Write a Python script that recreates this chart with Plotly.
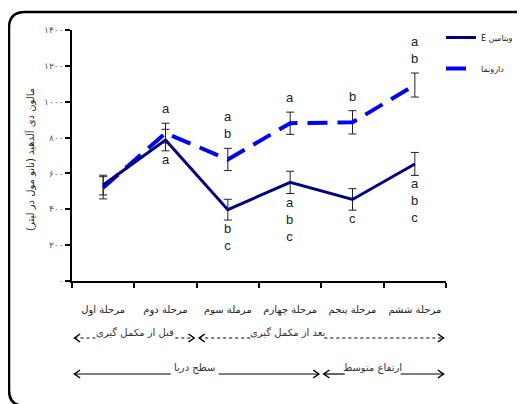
import plotly.graph_objects as go

# ---------------- data ----------------
stages = ["مرحلة اول", "مرحلة دوم", "مرملة سوم", "مرحلة چهارم", "مرحلة پنجم", "مرحلة ششم"]
stage_pos = [1, 2, 3, 4, 5, 6]

vitE = [535, 786, 398, 550, 455, 653]
vitE_err = [55, 60, 58, 62, 60, 64]
placebo = [520, 825, 678, 880, 885, 1093]
placebo_err = [62, 55, 62, 62, 65, 67]

letters_above = ["", "a", "a<br>b", "a", "b", "a<br>b"]          # above placebo
letters_below = ["", "a", "b<br>c", "a<br>b<br>c", "c", "a<br>b<br>c"]  # below vitamin E

y_tickvals = [0, 200, 400, 600, 800, 1000, 1200, 1400]
y_ticktext = ["۰", "۲۰۰", "۴۰۰", "۶۰۰", "۸۰۰", "۱۰۰۰", "۱۲۰۰", "۱۴۰۰"]

y_title = "مالون دی آلدهید (نانو مول در لیتر)"
name_vitE = "ویتامین E"
name_placebo = "دارونما"

phase_labels = ["قبل از مکمل گیری", "بعد از مکمل گیری"]
phase_spans = [(0.5, 2.5), (2.5, 6.5)]
alt_labels = ["سطح دریا", "ارتفاع متوسط"]
alt_spans = [(0.5, 4.5), (4.5, 6.5)]

RLE, PDF = "\u202b", "\u202c"
def rtl(s):
    return RLE + s + PDF

# ---------------- layout helpers ----------------
OFF = 8  # page body margin
W, H = 525 - OFF, 404 - OFF
L, T = 72 - OFF, 30 - OFF
R = W - (446 - OFF)
B = H - (281 - OFF)
PW, PH = W - L - R, H - T - B
UNIT = PW / 6.0  # px per category

def px_x(px):
    return (px - OFF - L) / PW

def px_y(py):
    return (H - B - (py - OFF)) / PH

fa_font = "DejaVu Sans"
navy = "#000080"
blue = "#0000FF"

fig = go.Figure()

fig.add_trace(go.Scatter(
    x=stage_pos, y=placebo, name=rtl(name_placebo), mode="lines",
    line=dict(color=blue, width=4, dash="20px,10px"),
    error_y=dict(type="data", array=placebo_err, color="#222", thickness=1, width=4),
    legendgroup="p", legendrank=2,
))
fig.add_trace(go.Scatter(
    x=stage_pos, y=vitE, name=rtl(name_vitE), mode="lines",
    line=dict(color=navy, width=3),
    error_y=dict(type="data", array=vitE_err, color="#222", thickness=1, width=4),
    legendgroup="e", legendrank=1,
))

annotations = []
for xp, v, e, t in zip(stage_pos, placebo, placebo_err, letters_above):
    if t:
        annotations.append(dict(x=xp, y=v + e, xref="x", yref="y", text=t, showarrow=False,
                                yanchor="bottom", yshift=5,
                                font=dict(family="Liberation Sans", size=13, color="#222")))
for xp, v, e, t in zip(stage_pos, vitE, vitE_err, letters_below):
    if t:
        annotations.append(dict(x=xp, y=v - e, xref="x", yref="y", text=t, showarrow=False,
                                yanchor="top", yshift=1,
                                font=dict(family="Liberation Sans", size=13, color="#222")))

# y-axis title
annotations.append(dict(x=px_x(30), y=px_y(160), xref="paper", yref="paper",
                        xanchor="center", yanchor="middle",
                        text=rtl(y_title), textangle=-90, showarrow=False,
                        font=dict(family=fa_font, size=10, color="#222")))

shapes = []
row2_y = px_y(338)
row3_y = px_y(374)
ah_dx = 0.09
ah_dy = 4 / PH
inset = 0.04

def bracket(span, yv, dash, width, label, shift_px, half_gap_px):
    x0, x1 = span[0] + inset, span[1] - inset
    xc = (span[0] + span[1]) / 2 + shift_px / UNIT
    g = half_gap_px / UNIT
    for a, b in ((x0, xc - g), (xc + g, x1)):
        shapes.append(dict(type="line", xref="x", yref="paper", x0=a, x1=b, y0=yv, y1=yv,
                           line=dict(color="black", width=width, dash=dash)))
    shapes.append(dict(type="path", xref="x", yref="paper",
                       path=f"M {x0+ah_dx},{yv+ah_dy} L {x0},{yv} L {x0+ah_dx},{yv-ah_dy}",
                       line=dict(color="black", width=1.5)))
    shapes.append(dict(type="path", xref="x", yref="paper",
                       path=f"M {x1-ah_dx},{yv+ah_dy} L {x1},{yv} L {x1-ah_dx},{yv-ah_dy}",
                       line=dict(color="black", width=1.5)))
    annotations.append(dict(x=xc, y=yv, xref="x", yref="paper",
                            text=rtl(label), showarrow=False, yshift=-2,
                            font=dict(family=fa_font, size=10, color="#333")))

for lab, sp, sh, hg in zip(phase_labels, phase_spans, [1, -34], [40, 37]):
    bracket(sp, row2_y, "dot", 1, lab, sh, hg)
for lab, sp, sh, hg in zip(alt_labels, alt_spans, [-2, -11], [24, 28]):
    bracket(sp, row3_y, "solid", 1.2, lab, sh, hg)

# outer rounded frame
xl, xr, yt, yb, r = 9, 560, 12, 406, 16
path = (f"M {px_x(xr)},{px_y(yb)} L {px_x(xl + r)},{px_y(yb)} "
        f"Q {px_x(xl)},{px_y(yb)} {px_x(xl)},{px_y(yb - r)} "
        f"L {px_x(xl)},{px_y(yt + r)} Q {px_x(xl)},{px_y(yt)} {px_x(xl + r)},{px_y(yt)} "
        f"L {px_x(xr)},{px_y(yt)}")
shapes.append(dict(type="path", xref="paper", yref="paper", path=path, layer="below",
                   line=dict(color="black", width=2.5)))

fig.update_layout(
    width=W, height=H,
    margin=dict(l=L, r=R, t=T, b=B, autoexpand=False),
    paper_bgcolor="white", plot_bgcolor="rgba(0,0,0,0)",
    showlegend=True,
    legend=dict(x=px_x(441), y=px_y(23), xanchor="left", yanchor="top", bgcolor="rgba(0,0,0,0)",
                font=dict(family=fa_font, size=8, color="#222"),
                tracegroupgap=12, itemwidth=30),
    xaxis=dict(range=[0.5, 6.5], tickvals=stage_pos, ticktext=[rtl(s) for s in stages],
               ticks="", showline=True, linecolor="black", linewidth=1.5,
               showgrid=False, zeroline=False, ticklabelstandoff=18,
               tickfont=dict(family=fa_font, size=10, color="#222"),
               minor=dict(tickvals=[0.5, 1.5, 2.5, 3.5, 4.5, 5.5, 6.5], ticks="outside",
                          ticklen=5, tickwidth=1.5, tickcolor="black", showgrid=False)),
    yaxis=dict(range=[0, 1400], tickvals=y_tickvals, ticktext=y_ticktext,
               ticks="outside", ticklen=5, tickwidth=1.5, tickcolor="black",
               showline=True, linecolor="black", linewidth=1.5,
               showgrid=False, zeroline=False,
               tickfont=dict(family=fa_font, size=9, color="#555")),
    annotations=annotations,
    shapes=shapes,
)

fig.write_html("out.html")
